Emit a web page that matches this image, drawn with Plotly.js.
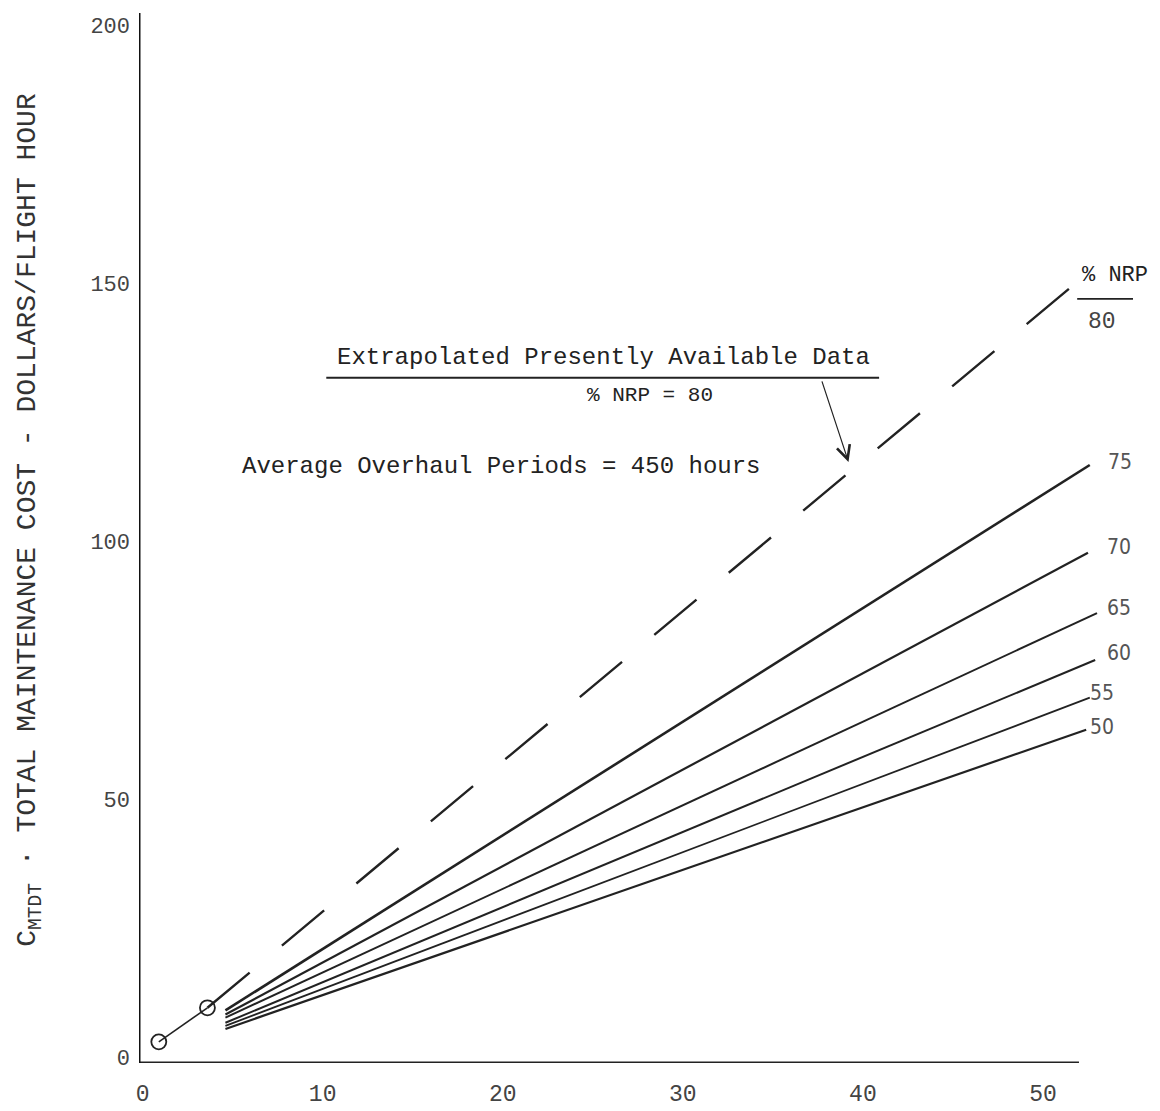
<!DOCTYPE html>
<html>
<head>
<meta charset="utf-8">
<script src="https://cdn.plot.ly/plotly-3.0.1.min.js"></script>
<style>html,body{margin:0;padding:0;background:#fff;}#chart{width:1160px;height:1111px;}</style>
</head>
<body>
<div id="chart"></div>
<script>
// ---- data ----
const nrpLabels = ['75', '70', '65', '60', '55', '50'];
const lineXStart = [4.6, 4.6, 4.6, 4.6, 4.6, 4.6];
const lineYStart = [9.0, 8.2, 7.6, 6.6, 6.0, 5.4];
const lineXEnd = [52.6, 52.5, 53.0, 52.9, 52.6, 52.4];
const lineYEnd = [114.7, 97.7, 86.0, 76.9, 69.6, 63.4];

const knownX = [0.9, 3.6];          // presently available data points
const knownY = [2.9, 9.5];
const extrapX = [3.6, 51.5];        // % NRP = 80 extrapolation
const extrapY = [9.5, 149.0];

const xTicks = [0, 10, 20, 30, 40, 50];
const yTicks = [0, 50, 100, 150, 200];

const mono = 'Liberation Mono, Courier New, monospace';
const ink = '#222';

const traces = [];
const widths = [2.6, 2.2, 2.0, 2.0, 1.8, 2.2];
nrpLabels.forEach((lab, i) => {
  traces.push({
    x: [lineXStart[i], lineXEnd[i]],
    y: [lineYStart[i], lineYEnd[i]],
    mode: 'lines', type: 'scatter', name: lab,
    line: {color: ink, width: widths[i]},
    hoverinfo: 'skip', showlegend: false
  });
});
traces.push({
  x: extrapX, y: extrapY, mode: 'lines', type: 'scatter', name: '80',
  line: {color: ink, width: 2.4, dash: '55px,42px'},
  hoverinfo: 'skip', showlegend: false
});
traces.push({
  x: knownX, y: knownY, mode: 'lines+markers', type: 'scatter', name: 'data',
  line: {color: ink, width: 1.6},
  marker: {symbol: 'circle-open', size: 15, color: ink, line: {width: 1.8, color: ink}},
  hoverinfo: 'skip', showlegend: false
});

const ann = [];
// line labels next to line ends
const ldx = [1.7, 1.7, 1.2, 1.3, 0.7, 0.9];
const ldy = [0.6, 1.1, 1.0, 1.4, 0.9, 0.6];
nrpLabels.forEach((lab, i) => {
  ann.push({x: lineXEnd[i] + ldx[i], y: lineYEnd[i] + ldy[i], xref: 'x', yref: 'y',
    text: lab, showarrow: false, xanchor: 'center', yanchor: 'middle',
    font: {family: 'Liberation Sans Narrow, DejaVu Sans Condensed, sans-serif', size: 21, color: '#555'}});
});
ann.push({x: 54.0, y: 151.4, xref: 'x', yref: 'y', text: '% NRP', showarrow: false,
  font: {family: mono, size: 22, color: ink}});
ann.push({x: 53.3, y: 142.4, xref: 'x', yref: 'y', text: '80', showarrow: false,
  font: {family: mono, size: 23, color: '#444'}});
ann.push({x: 25.6, y: 135.5, xref: 'x', yref: 'y', text: 'Extrapolated Presently Available Data',
  showarrow: false, font: {family: mono, size: 24, color: ink}});
ann.push({x: 28.2, y: 128.1, xref: 'x', yref: 'y', text: '% NRP = 80',
  showarrow: false, font: {family: mono, size: 21, color: ink}});
ann.push({x: 19.9, y: 114.5, xref: 'x', yref: 'y', text: 'Average Overhaul Periods = 450 hours',
  showarrow: false, font: {family: mono, size: 24, color: ink}});
ann.push({x: 39.2, y: 115.3, ax: 37.7, ay: 131.2, xref: 'x', yref: 'y', axref: 'x', ayref: 'y',
  text: '', showarrow: true, arrowhead: 5, arrowsize: 2.2, arrowwidth: 1.2, arrowcolor: ink});
ann.push({x: -0.11, y: 104, xref: 'paper', yref: 'y', textangle: -90, showarrow: false,
  xanchor: 'center', yanchor: 'middle',
  text: 'C<sub>MTDT</sub> · TOTAL MAINTENANCE COST - DOLLARS/FLIGHT HOUR',
  font: {family: mono, size: 28, color: '#333'}});

const shapes = [
  {type: 'line', xref: 'x', yref: 'y', x0: -0.2, x1: 52.0, y0: -1.2, y1: -1.2, line: {color: ink, width: 3}},
  {type: 'line', xref: 'x', yref: 'y', x0: -0.2, x1: -0.2, y0: -1.2, y1: 202.3, line: {color: '#111', width: 3}},
  {type: 'line', xref: 'x', yref: 'y', x0: 10.2, x1: 40.9, y0: 131.6, y1: 131.6, line: {color: ink, width: 2}},
  {type: 'line', xref: 'x', yref: 'y', x0: 51.9, x1: 55.9, y0: 146.9, y1: 146.9, line: {color: ink, width: 1.6}}
];

const layout = {
  width: 1160, height: 1111,
  margin: {l: 139, r: 27, t: 13, b: 48},
  paper_bgcolor: '#fff', plot_bgcolor: '#fff',
  showlegend: false,
  xaxis: {range: [-0.2, 55], tickvals: xTicks, ticktext: xTicks.map(String),
    showgrid: false, zeroline: false, showline: false, ticks: '',
    ticklabelstandoff: 14, tickfont: {family: mono, size: 23, color: '#444'}},
  yaxis: {range: [-1.2, 202.3], tickvals: yTicks, ticktext: yTicks.map(String),
    showgrid: false, zeroline: false, showline: false, ticks: '',
    ticklabelstandoff: 8, tickfont: {family: mono, size: 22, color: '#444'}},
  annotations: ann,
  shapes: shapes
};

Plotly.newPlot('chart', traces, layout, {staticPlot: true, displayModeBar: false});
</script>
</body>
</html>
